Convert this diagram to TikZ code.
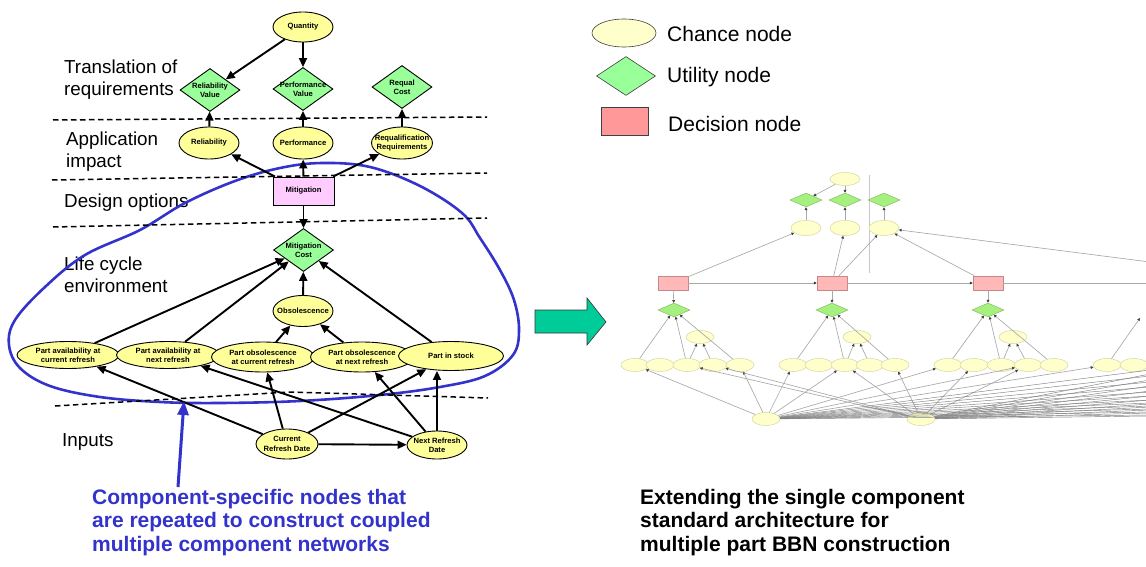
\documentclass[tikz,border=0pt]{standalone}
\usepackage{fontspec}
\setmainfont{Liberation Sans}
\usetikzlibrary{shapes.geometric,arrows.meta}
\definecolor{chance}{HTML}{FFFF99}
\definecolor{util}{HTML}{99FF99}
\definecolor{decis}{HTML}{FFCCFF}
\definecolor{legchance}{HTML}{FFFFCC}
\definecolor{legdec}{HTML}{FF9999}
\definecolor{bluec}{HTML}{3333CC}
\definecolor{arrowg}{HTML}{00CC99}
\definecolor{rchf}{HTML}{FFFFCC}
\definecolor{rchd}{HTML}{D6D6A0}
\definecolor{rutf}{HTML}{A6F080}
\definecolor{rutd}{HTML}{88BB66}
\definecolor{rdcf}{HTML}{FFB8B8}
\definecolor{rdcd}{HTML}{C88888}
\definecolor{gline}{HTML}{A8A8A8}
\begin{document}
\begin{tikzpicture}[x=1pt,y=-1pt,
  nl/.style={font=\bfseries\fontsize{7.6}{9.4}\selectfont, align=center, inner sep=0pt},
  chn/.style={ellipse, draw=black, line width=0.9pt, fill=chance, inner sep=0pt},
  utl/.style={diamond, draw=black, line width=0.9pt, fill=util, inner sep=0pt},
  dcs/.style={rectangle, draw=black, line width=0.9pt, fill=decis, inner sep=0pt},
  ed/.style={line width=1.9pt, -{Triangle[length=9pt,width=8pt]}},
  dl/.style={line width=1.5pt, dash pattern=on 5.5pt off 3.5pt},
  lab/.style={font=\fontsize{18.8}{22}\selectfont, anchor=west, inner sep=0pt, align=left},
  legt/.style={font=\fontsize{21}{24}\selectfont, anchor=west, inner sep=0pt},
  bigt/.style={font=\bfseries\fontsize{21}{23.3}\selectfont, anchor=north west, inner sep=0pt, align=left},
  rch/.style={ellipse, draw=rchd, line width=0.5pt, fill=rchf, inner sep=0pt, minimum width=28pt, minimum height=13pt},
  rut/.style={diamond, draw=rutd, line width=0.5pt, fill=rutf, inner sep=0pt, minimum width=32pt, minimum height=14pt},
  rdc/.style={rectangle, draw=rdcd, line width=0.5pt, fill=rdcf, inner sep=0pt, minimum width=30pt, minimum height=14pt},
  gedge/.style={draw=gline, line width=0.65pt, -{Triangle[length=2.8pt,width=2.8pt,color=black!75]}},
  gfan/.style={draw=black!50, line width=0.45pt},
]
\useasboundingbox (0,0) rectangle (1146,567);

% ---------- left: layer labels ----------
\node[lab] (tl) at (64,80) {Translation of\\requirements};
\node[lab] (ai) at (66,152) {Application\\impact};
\node[lab] (do) at (64,203) {Design options};
\node[lab] (lc) at (64,275) {Life cycle\\environment};
\node[lab] (inp) at (62,442) {Inputs};

% ---------- blue loop ----------
\draw[bluec, line width=2.6pt] plot[smooth cycle, tension=0.6] coordinates {
 (322,163) (370,167) (420,186) (462,213) (480,238) (500,270) (514,300) (519,330)
 (513,355) (485,376) (440,387) (380,395) (300,401) (220,403) (160,402) (100,397)
 (50,386) (20,368) (9,345) (15,320) (45,287) (85,255) (140,230) (185,203) (235,181) (280,168)};

% ---------- dashed layer lines ----------
\draw[dl] (53,120) -- (487,117);
\draw[dl] (52,180) -- (487,173);
\draw[dl] (53,227) -- (487,218);
\draw[dl] (55,406) -- (290,392) -- (488,398);

% ---------- left nodes ----------
\node[chn, minimum width=60pt, minimum height=30pt, label={[nl]center:Quantity}] (qty) at (303,27) {};
\node[utl, minimum width=60pt, minimum height=43pt, label={[nl]center:Reliability\\Value}] (rv) at (210,90) {};
\node[utl, minimum width=60pt, minimum height=43pt, label={[nl]center:Performance\\Value}] (pv) at (303,89) {};
\node[utl, minimum width=60pt, minimum height=43pt, label={[nl]center:Requal\\Cost}] (rc) at (402,87) {};
\node[chn, minimum width=60pt, minimum height=32pt, label={[nl]center:Reliability}] (rel) at (209,143) {};
\node[chn, minimum width=60pt, minimum height=32pt, label={[nl]center:Performance}] (perf) at (303,143) {};
\node[chn, minimum width=61pt, minimum height=32pt, label={[nl]center:Requalification\\Requirements}] (req) at (402,143) {};
\node[dcs, minimum width=61pt, minimum height=28pt, label={[nl]center:Mitigation}] (mit) at (303.5,191) {};
\node[utl, minimum width=60pt, minimum height=43pt, label={[nl]center:Mitigation\\Cost}] (mc) at (303.5,250) {};
\node[chn, minimum width=60pt, minimum height=31pt, label={[nl]center:Obsolescence}] (obs) at (303,311) {};
\node[chn, minimum width=102pt, minimum height=27pt, label={[nl]center:Part availability at\\current refresh}] (pac) at (68,355) {};
\node[chn, minimum width=103pt, minimum height=27pt, label={[nl]center:Part availability at\\next refresh}] (pan) at (168,355) {};
\node[chn, minimum width=103pt, minimum height=30pt, label={[nl]center:Part obsolescence\\at current refresh}] (poc) at (263,357) {};
\node[chn, minimum width=103pt, minimum height=30pt, label={[nl]center:Part obsolescence\\at next refresh}] (pon) at (362,357) {};
\node[chn, minimum width=105pt, minimum height=29pt, label={[nl]center:Part in stock}] (pis) at (451,356) {};
\node[chn, minimum width=62pt, minimum height=30pt, label={[nl]center:Current\\Refresh Date}] (crd) at (287,444) {};
\node[chn, minimum width=60pt, minimum height=28pt, label={[nl]center:Next Refresh\\Date}] (nrd) at (437,445) {};

% ---------- left edges ----------
\draw[ed] (qty) -- (rv);
\draw[ed] (qty) -- (pv);
\draw[ed] (rel) -- (rv);
\draw[ed] (perf) -- (pv);
\draw[ed] (req) -- (rc);
\draw[ed] (mit) -- (rel);
\draw[ed] (mit) -- (perf);
\draw[ed] (mit) -- (req);
\draw[ed] (mit) -- (mc);
\draw[ed] (pac) -- (mc);
\draw[ed] (pan) -- (mc);
\draw[ed] (obs) -- (mc);
\draw[ed] (pis) -- (mc);
\draw[ed] (poc) -- (obs);
\draw[ed] (pon) -- (obs);
\draw[ed] (crd) -- (pac);
\draw[ed] (crd) -- (poc);
\draw[ed] (crd) -- (pis);
\draw[ed] (crd) -- (nrd);
\draw[ed] (nrd) -- (pan);
\draw[ed] (nrd) -- (pon);
\draw[ed] (nrd.north) -- (nrd.north |- pis.south);

% ---------- blue pointer and caption ----------
\coordinate (pa1) at (178,487);
\coordinate (pa2) at (184,401);
\draw[bluec, line width=3pt, -{Triangle[length=14pt,width=11pt]}] (pa1) -- (pa2);
\node[bigt, text=bluec] (bt) at (92,489) {Component-specific nodes that\\are repeated to construct coupled\\multiple component networks};

% ---------- legend ----------
\node[ellipse, draw=black!75, line width=0.6pt, fill=legchance, minimum width=64pt, minimum height=28pt, inner sep=0pt] (lg1) at (624,33) {};
\node[legt] (lt1) at (667,34) {Chance node};
\node[diamond, draw=black!75, line width=0.6pt, fill=util, minimum width=59pt, minimum height=39pt, inner sep=0pt] (lg2) at (626,76) {};
\node[legt] (lt2) at (667,77) {Utility node};
\node[rectangle, draw=black!75, line width=0.6pt, fill=legdec, minimum width=47pt, minimum height=28pt, inner sep=0pt] (lg3) at (624.5,121) {};
\node[legt] (lt3) at (668,124) {Decision node};

% ---------- block arrow ----------
\draw[fill=arrowg, draw=black!80, line width=0.6pt] (535,310) -- (587,310) -- (587,298) -- (606,322) -- (587,345) -- (587,333) -- (535,333) -- cycle;

% ---------- right: extended network (screenshot) ----------
\begin{scope}
\clip (600,160) rectangle (1146,440);
\draw[black!22, line width=0.6pt] (869,175) -- (869,273);
\node[rch, minimum width=30pt] (q2) at (845,179) {};
\node[rut] (d1) at (806,200) {};
\node[rut] (d2) at (845,200) {};
\node[rut] (d3) at (884,200) {};
\node[rch, minimum width=30pt, minimum height=15pt] (e1) at (806,228) {};
\node[rch, minimum width=30pt, minimum height=15pt] (e2) at (845,228) {};
\node[rch, minimum width=30pt, minimum height=15pt] (e3) at (884,228) {};
\node[rdc] (m1) at (673,283) {};
\node[rdc] (m2) at (832,283) {};
\node[rdc] (m3) at (988,283) {};
\node[rut] (ua) at (674,310) {};
\node[rut] (ub) at (832,310) {};
\node[rut] (uc) at (988,310) {};
\node[rch] (oa) at (700,337) {};
\node[rch] (ob) at (857,337) {};
\node[rch] (oc) at (1013,337) {};
\foreach \x [count=\i] in {635,660,687,713,740} \node[rch] (ga\i) at (\x,365) {};
\foreach \x [count=\i] in {793,819,845,870,895} \node[rch] (gb\i) at (\x,365) {};
\foreach \x [count=\i] in {948,974,1001,1028,1054} \node[rch] (gc\i) at (\x,365) {};
\foreach \x [count=\i] in {1107,1134} \node[rch] (gd\i) at (\x,365) {};
\node[rch] (cd) at (766,419) {};
\node[rch] (rd) at (921,419) {};
\coordinate (c4r) at (1150,262);
\coordinate (c4m) at (1150,283);
\coordinate (c4u) at (1140,318);

\draw[gedge] (q2) -- (d1);
\draw[gedge] (q2) -- (d2);
\draw[gedge] (e1) -- (d1);
\draw[gedge] (e2) -- (d2);
\draw[gedge] (e3) -- (d3);
\draw[gedge] (m1) -- (e1);
\draw[gedge] (m2) -- (e2);
\draw[gedge] (m2) -- (e3);
\draw[gedge] (m3) -- (e3);
\draw[gedge] (c4r) -- (e3);
\draw[gedge] (m1) -- (m2);
\draw[gedge] (m2) -- (m3);
\draw[gedge] (m3) -- (c4m);
\draw[gedge] (m1) -- (ua);
\draw[gedge] (m2) -- (ub);
\draw[gedge] (m3) -- (uc);
\foreach \g in {a,b,c}{
  \draw[gedge] (g\g1) -- (u\g);
  \draw[gedge] (g\g3) -- (u\g);
  \draw[gedge] (g\g5) -- (u\g);
  \draw[gedge] (g\g3) -- (o\g);
  \draw[gedge] (g\g4) -- (o\g);
}
\draw[gedge] (gd1) -- (c4u);
\foreach \t in {ga1,ga5,gb1,gb3,gc1,gc4,gd1} \draw[gedge] (cd) -- (\t);
\foreach \t in {ga3,ga4,gb3,gb5,gc2,gc4} \draw[gedge] (rd) -- (\t);
\foreach \y [count=\i] in {370,376,382,387,392,396,400,403,406,409,412,415}{
  \coordinate (fc\i) at (1150,\y);
  \draw[gfan] (cd) -- (fc\i);
}
\foreach \y [count=\i] in {374,380,386,391,396,400,404,407,410,413,416}{
  \coordinate (fr\i) at (1150,\y);
  \draw[gfan] (rd) -- (fr\i);
}
\end{scope}

% ---------- right caption ----------
\node[bigt] (rt) at (640,489) {Extending the single component\\standard architecture for\\multiple part BBN construction};
\end{tikzpicture}
\end{document}
